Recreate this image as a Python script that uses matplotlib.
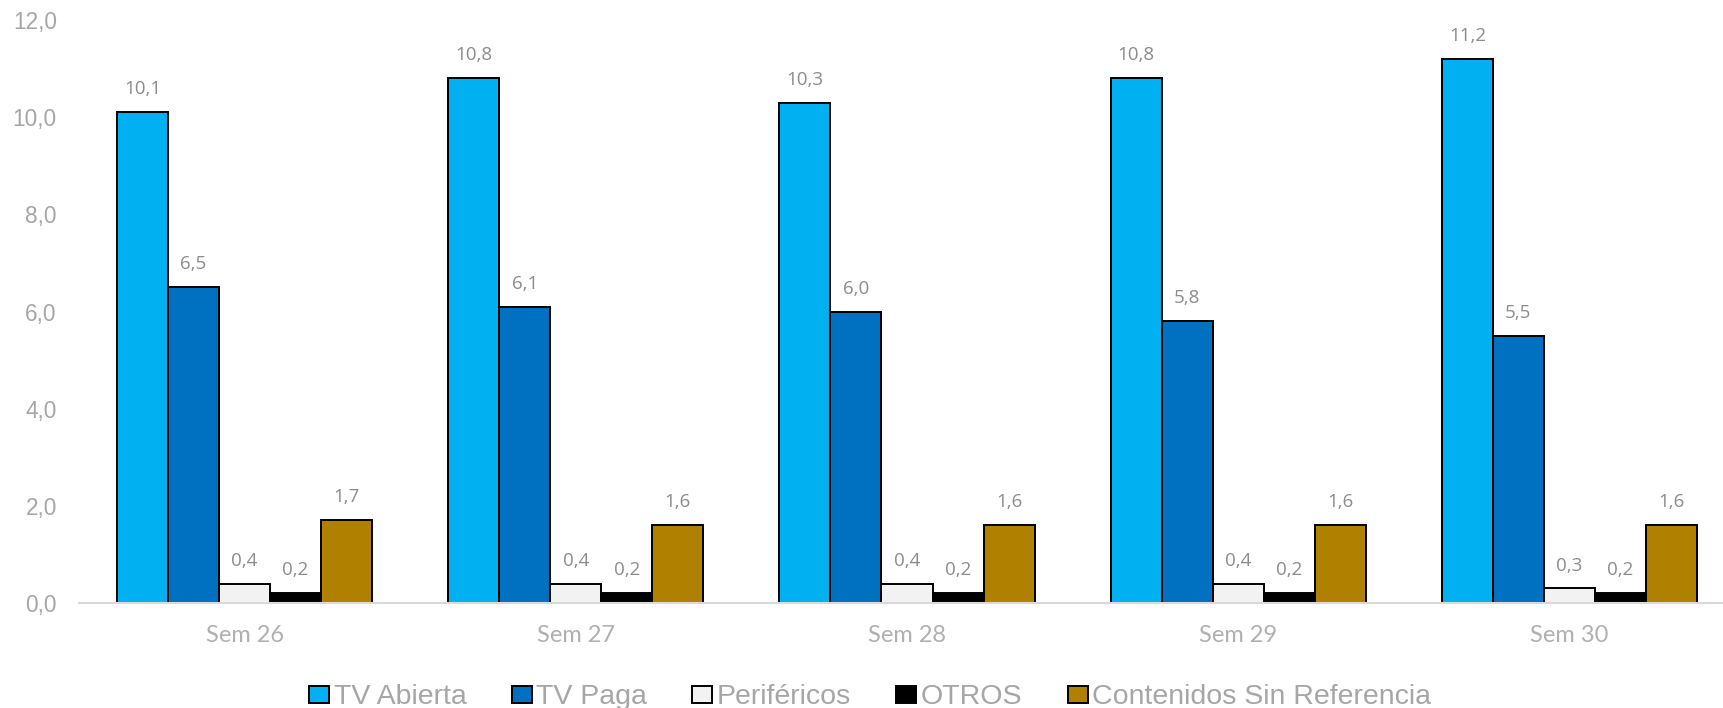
"""Weekly audience share by platform, Sem 26-30 (grouped bars)."""

import numpy as np
import matplotlib
matplotlib.use('Agg')
import matplotlib.pyplot as plt
from matplotlib.patches import Patch

weeks = ['Sem 26', 'Sem 27', 'Sem 28', 'Sem 29', 'Sem 30']
series = ['TV Abierta', 'TV Paga', 'Periféricos', 'OTROS', 'Contenidos Sin Referencia']
tv_abierta = [10.1, 10.8, 10.3, 10.8, 11.2]
tv_paga = [6.5, 6.1, 6.0, 5.8, 5.5]
perifericos = [0.4, 0.4, 0.4, 0.4, 0.3]
otros = [0.2, 0.2, 0.2, 0.2, 0.2]
sin_ref = [1.7, 1.6, 1.6, 1.6, 1.6]
colors = ['#00B0F0', '#0070C0', '#F2F2F2', '#000000', '#B08000']

GRAY = '#a6a6a6'
LABEL_GRAY = '#8c8c8c'


def fmt(v):
    return f"{v:.1f}".replace('.', ',')


def main():
    values = [tv_abierta, tv_paga, perifericos, otros, sin_ref]
    W, H, DPI = 1723, 708, 100
    fig = plt.figure(figsize=(W / DPI, H / DPI), dpi=DPI)
    ax = fig.add_axes([79 / W, 105 / H, 1656 / W, 583 / H])

    x = np.arange(len(weeks))
    bw = 0.154
    for i, (vals, col) in enumerate(zip(values, colors)):
        pos = x + (i - 2) * bw
        ax.bar(pos, vals, width=bw, color=col, edgecolor='black', linewidth=1.4, zorder=3)
        for px, v in zip(pos, vals):
            ax.annotate(fmt(v), (px, v), xytext=(0, 16.5), textcoords='offset points',
                        ha='center', va='center', fontsize=13.5, color=LABEL_GRAY,
                        family='Open Sans')

    ax.set_xlim(-0.5, len(weeks) - 0.5)
    ax.set_ylim(0, 12)
    ax.set_yticks(np.arange(0, 12.1, 2))
    ax.set_yticklabels([fmt(v) for v in np.arange(0, 12.1, 2)],
                       fontsize=16.3, color=GRAY, family='Liberation Sans')
    ax.set_xticks(x)
    ax.set_xticklabels(weeks, fontsize=17, color='#b0b0b0', family='Lato')
    ax.tick_params(axis='y', length=0, pad=16)
    ax.tick_params(axis='x', length=0, pad=16)
    for s in ['top', 'right', 'left']:
        ax.spines[s].set_visible(False)
    ax.spines['bottom'].set_color('#d9d9d9')
    ax.spines['bottom'].set_linewidth(1.5)
    ax.spines['bottom'].set_zorder(4)

    handles = [Patch(facecolor=c, edgecolor='black', linewidth=1.4, label=s)
               for c, s in zip(colors, series)]
    leg = fig.legend(handles=handles, loc='center', bbox_to_anchor=(0.505, 0.015), ncol=5,
                     frameon=False, prop={'family': 'Liberation Sans', 'size': 20.5},
                     handlelength=0.7, handleheight=0.55, handletextpad=0.15,
                     columnspacing=1.6, borderaxespad=0, borderpad=0)
    for t in leg.get_texts():
        t.set_color(GRAY)

    fig.savefig('out.png', dpi=DPI)


if __name__ == '__main__':
    main()
